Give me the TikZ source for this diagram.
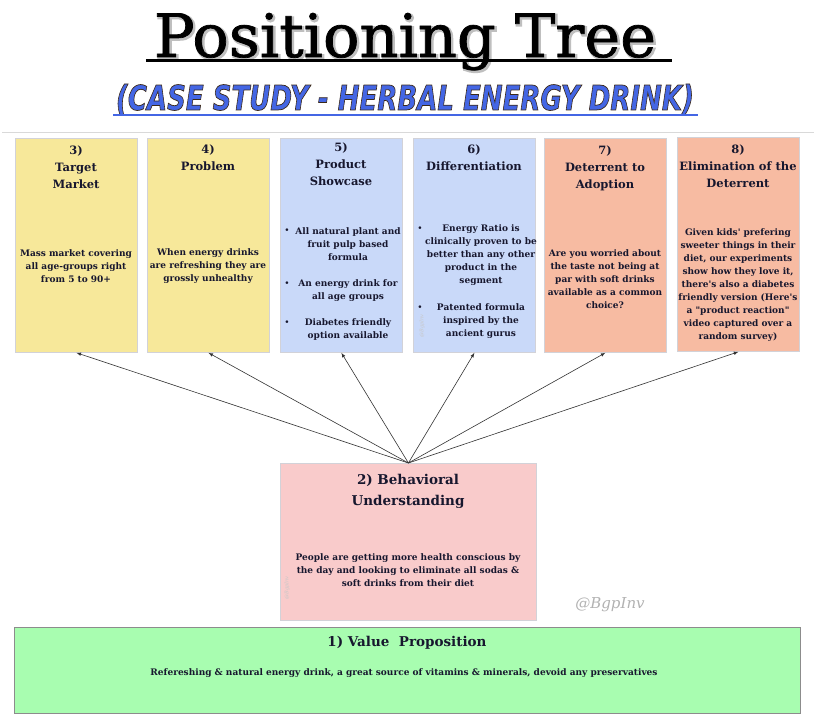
\documentclass[tikz,border=0pt]{standalone}
\usepackage{fontspec}
\setmainfont{DejaVu Serif}
\newfontfamily\titlefont{DejaVu Serif}
\newfontfamily\capsfont{DejaVu Sans}
\usepackage{graphicx}
\usetikzlibrary{positioning}
\usetikzlibrary{calc}

\definecolor{ink}{HTML}{17172E}
\definecolor{cardline}{HTML}{D2D2D8}
\definecolor{yellowcard}{HTML}{F7E89A}
\definecolor{bluecard}{HTML}{C9D9F9}
\definecolor{salmoncard}{HTML}{F7BBA2}
\definecolor{pinkcard}{HTML}{F9CBCB}
\definecolor{greencard}{HTML}{A8FDB0}
\definecolor{subblue}{HTML}{4466E4}

% stroked lettering: #1 = pdf stroke settings, #2 = text
\newcommand\stroked[2]{\special{pdf:literal direct 2 Tr #1}#2\special{pdf:literal direct 0 Tr}}
\newcommand\titleart{\resizebox{502pt}{44pt}{\titlefont Positioning Tree}}
\newcommand\subart{\resizebox{578pt}{26pt}{\capsfont\bfseries\itshape (CASE STUDY - HERBAL ENERGY DRINK)}}

\begin{document}
\begin{tikzpicture}[x=1pt, y=-1pt,
    card/.style={draw=cardline, line width=0.8pt, anchor=north west,
        minimum width=122pt, minimum height=214pt, inner sep=0pt},
    head/.style={text=ink, align=center, inner sep=0pt,
        font=\bfseries\fontsize{11.5}{17}\selectfont},
    body/.style={text=ink, align=center, inner sep=0pt,
        font=\bfseries\fontsize{9}{13}\selectfont},
    dot/.style={text=ink, inner sep=0pt, font=\fontsize{9}{13}\selectfont},
    link/.style={-latex, line width=0.6pt, black!80},
    wmark/.style={text=black!22, inner sep=0pt, font=\itshape\fontsize{5}{6}\selectfont, rotate=90}
]
    \fill[white] (0,0) rectangle (814,727);
    \useasboundingbox (0,0) rectangle (814,727);

    % title and subtitle
    \node[anchor=base, text=black!25, inner sep=0pt] (titleshadow) at (406.5,58.5)
        {\stroked{0.45 w}{\titleart}};
    \node[anchor=base, text=black, inner sep=0pt] (title) at (405,57)
        {\stroked{0.12 w}{\titleart}};
    \draw[line width=3pt] ($(title.base west) + (-8,4)$) coordinate (ul1)
        -- ($(title.base east) + (16,4)$) coordinate (ul2);

    \node[anchor=base, text=subblue, inner sep=0pt] (subtitle) at (405,110)
        {\stroked{0.22 w 0.23 0.16 0.10 RG}{\subart}};
    \draw[subblue, line width=2.5pt] (113,115) coordinate (sl1) -- (698,115) coordinate (sl2);

    \draw[black!15, line width=1pt] (2,133) coordinate (r1) -- (814,133) coordinate (r2);

    % the six cards
    \node[card, fill=yellowcard] (target) at (15,138) {};
    \node[card, fill=yellowcard] (problem) at (147,138) {};
    \node[card, fill=bluecard] (showcase) at (280,138) {};
    \node[card, fill=bluecard] (differ) at (413,138) {};
    \node[card, fill=salmoncard] (deterrent) at (544,138) {};
    \node[card, fill=salmoncard] (elimination) at (677,137) {};

    \node[head] (targethead) at (76,167) {3)\\Target\\Market};
    \node[body] (targetbody) at (76,266) {Mass market covering\\all age-groups right\\from 5 to 90+};

    \node[head] (problemhead) at (208,158) {4)\\Problem};
    \node[body] (problembody) at (208,266) {When energy drinks\\are refreshing they are\\grossly unhealthy};

    \node[head] (showhead) at (341,164) {5)\\Product\\Showcase};
    \node[dot] (showdot1) at (287,231) {\textbullet};
    \node[body] (showitem1) at (348,244) {All natural plant and\\fruit pulp based\\formula};
    \node[dot] (showdot2) at (287,284) {\textbullet};
    \node[body] (showitem2) at (348,290.5) {An energy drink for\\all age groups};
    \node[dot] (showdot3) at (287,323) {\textbullet};
    \node[body] (showitem3) at (348,329.5) {Diabetes friendly\\option available};

    \node[head] (differhead) at (474,158) {6)\\Differentiation};
    \node[dot] (differdot1) at (420,229) {\textbullet};
    \node[body] (differitem1) at (481,255) {Energy Ratio is\\clinically proven to be\\better than any other\\product in the\\segment};
    \node[dot] (differdot2) at (420,308) {\textbullet};
    \node[body] (differitem2) at (481,321) {Patented formula\\inspired by the\\ancient gurus};
    \node[wmark] (differmark) at (422,326) {@BgpInv};

    \node[head] (deterhead) at (605,168) {7)\\Deterrent to\\Adoption};
    \node[body] (deterbody) at (605,279) {Are you worried about\\the taste not being at\\par with soft drinks\\available as a common\\choice?};

    \node[head] (elimhead) at (738,166) {8)\\Elimination of the\\Deterrent};
    \node[body] (elimbody) at (738,285) {Given kids\textquotesingle{} prefering\\sweeter things in their\\diet, our experiments\\show how they love it,\\there\textquotesingle{}s also a diabetes\\friendly version (Here\textquotesingle{}s\\a \textquotedbl{}product reaction\textquotedbl{}\\video captured over a\\random survey)};

    % behavioral understanding
    \node[card, fill=pinkcard, minimum width=256pt, minimum height=157pt] (behavior) at (280,463) {};
    \node[head, font=\bfseries\fontsize{13.5}{21}\selectfont] (behaviorhead) at (408,491.5) {2) Behavioral\\Understanding};
    \node[body] (behaviorbody) at (408,570) {People are getting more health conscious by\\the day and looking to eliminate all sodas \&\\soft drinks from their diet};
    \node[wmark] (behaviormark) at (287,588) {@BgpInv};

    \node[text=black!30, inner sep=0pt, font=\itshape\fontsize{15}{17}\selectfont] (watermark) at (610,605) {@BgpInv};

    % value proposition
    \node[card, draw=black!45, fill=greencard, minimum width=786pt, minimum height=86pt] (value) at (14,627) {};
    \node[head, font=\bfseries\fontsize{13.5}{17}\selectfont] (valuehead) at (407,643) {1) Value\ \ Proposition};
    \node[body] (valuebody) at (404,673) {Refereshing \& natural energy drink, a great source of vitamins \& minerals, devoid any preservatives};

    % arrows up to the cards
    \foreach \n in {target, problem, showcase, differ, deterrent, elimination}
        \draw[link] (behavior.north) -- (\n.south);
\end{tikzpicture}
\end{document}
